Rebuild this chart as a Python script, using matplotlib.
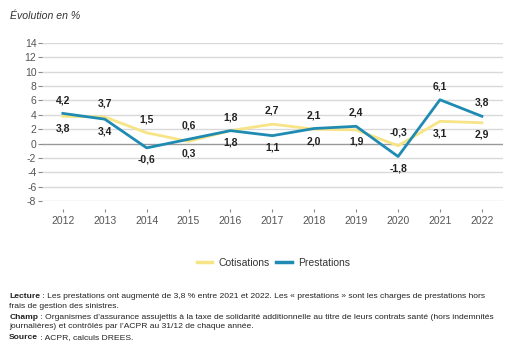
import matplotlib
matplotlib.use("Agg")
import matplotlib.pyplot as plt
from matplotlib.lines import Line2D

plt.rcParams['font.family'] = ['Liberation Sans', 'DejaVu Sans']

years = [2012, 2013, 2014, 2015, 2016, 2017, 2018, 2019, 2020, 2021, 2022]
cotisations = [3.8, 3.7, 1.5, 0.3, 1.8, 2.7, 2.0, 1.9, -0.3, 3.1, 2.9]
prestations = [4.2, 3.4, -0.6, 0.6, 1.8, 1.1, 2.1, 2.4, -1.8, 6.1, 3.8]
yticks = list(range(-8, 15, 2))

col_cot = '#F7E486'
col_pre = '#1F8BB3'

fig = plt.figure(figsize=(5.11, 3.58), dpi=100)
ax = fig.add_axes([0.082, 0.4385, 0.902, 0.4413])

for y in yticks:
    ax.axhline(y, color='#9a9a9a' if y == 0 else '#d9d9d9', lw=1.0, zorder=0)

ax.plot(years, cotisations, color=col_cot, lw=2.0, zorder=2)
ax.plot(years, prestations, color=col_pre, lw=2.0, zorder=3)

def fmt(v):
    return ('%.1f' % v).replace('.', ',')

# label above for the higher value, below for the lower one
for x, c, p in zip(years, cotisations, prestations):
    hi, lo = (p, c) if p >= c else (c, p)
    ax.annotate(fmt(hi), (x, hi), xytext=(0, 6), textcoords='offset points',
                ha='center', va='bottom', fontsize=7.5, fontweight='bold', color='#222222')
    ax.annotate(fmt(lo), (x, lo), xytext=(0, -5), textcoords='offset points',
                ha='center', va='top', fontsize=7.5, fontweight='bold', color='#222222')

ax.set_xlim(2011.5, 2022.5)
ax.set_ylim(-8, 14)
ax.set_xticks(years)
ax.set_xticklabels([str(y) for y in years])
ax.set_yticks(yticks)
ax.set_yticklabels([str(y) for y in yticks])
for s in ['top', 'right', 'left']:
    ax.spines[s].set_visible(False)
ax.spines['bottom'].set_position(('outward', 6))
ax.spines['bottom'].set_visible(False)
ax.tick_params(axis='x', length=2.5, color='#888888', labelsize=7.5, labelcolor='#555555', pad=2)
ax.tick_params(axis='y', length=3, color='#888888', labelsize=7.5, labelcolor='#555555', pad=1)

handles = [Line2D([], [], color=col_cot, lw=2.5), Line2D([], [], color=col_pre, lw=2.5)]
fig.legend(handles, ['Cotisations', 'Prestations'], loc='center', bbox_to_anchor=(0.535, 0.266),
           ncol=2, frameon=False, fontsize=7.5, handlelength=1.5, columnspacing=0.6,
           handletextpad=0.6, labelcolor='#333333')

fig.text(0.02, 0.955, 'Évolution en %', fontsize=7.6, style='italic', color='#333333', va='center')

fs = 6.1

def rich(y, bold, rest):
    t = fig.text(0.018, y, bold, fontsize=fs, fontweight='bold', color='#222222', va='baseline')
    ax.annotate(rest, xy=(1, 0), xycoords=t, fontsize=fs, color='#222222', va='bottom')

def plain(y, txt):
    fig.text(0.018, y, txt, fontsize=fs, color='#222222', va='baseline')

rich(1 - 298 / 358, 'Lecture', ' : Les prestations ont augmenté de 3,8 % entre 2021 et 2022. Les « prestations » sont les charges de prestations hors')
plain(1 - 307.5 / 358, 'frais de gestion des sinistres.')
rich(1 - 319 / 358, 'Champ', ' : Organismes d\u2019assurance assujettis à la taxe de solidarité additionnelle au titre de leurs contrats santé (hors indemnités')
plain(1 - 328.5 / 358, 'journalières) et contrôlés par l\u2019ACPR au 31/12 de chaque année.')
rich(1 - 339 / 358, 'Source', ' : ACPR, calculs DREES.')

fig.savefig('out.png', dpi=100)
